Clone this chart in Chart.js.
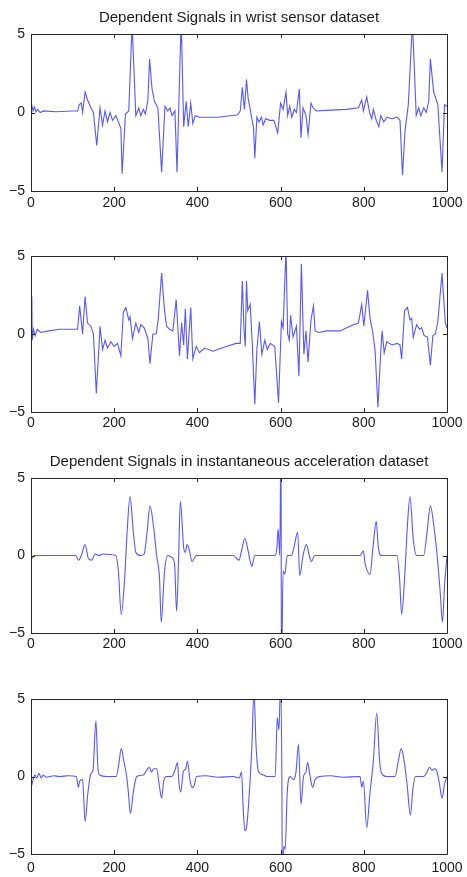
<!DOCTYPE html>
<html>
<head>
<meta charset="utf-8">
<script src="https://cdn.jsdelivr.net/npm/chart.js@4.4.1/dist/chart.umd.min.js"></script>
<style>
    body { margin: 0; background: #fff; }
    #wrap { position: relative; width: 467px; height: 877px; overflow: hidden; }
    canvas { position: absolute; left: 0; }
</style>
</head>
<body>
<div id="wrap">
    <canvas id="chart1" style="top:0px"></canvas>
    <canvas id="chart2" style="top:230px"></canvas>
    <canvas id="chart3" style="top:440px"></canvas>
    <canvas id="chart4" style="top:680px"></canvas>
</div>
<script>
// tick labels and titles
let xTicks = [0, 200, 400, 600, 800, 1000];
let yTicks = [-5, 0, 5];
let titles = [
    "Dependent Signals in wrist sensor dataset",
    "",
    "Dependent Signals in instantaneous acceleration dataset",
    ""
];

// [sample, value]
let wristSignal1 = [
    [0, 0.3], [2, 0.45], [5, 0.1], [8, 0.35], [12, 0.05], [16, 0.2], [22, 0.0], [30, 0.1],
    [60, 0.05], [100, 0.1], [112, 0.1], [116, 0.5], [121, 0.6], [124, 0.0], [130, 1.3],
    [136, 0.8], [144, 0.3], [150, 0.0], [158, -2.1], [166, 0.3], [172, -0.8], [178, 0.1],
    [184, -0.6], [190, 0.0], [196, -0.5], [204, -0.2], [210, -0.6], [216, -1.0], [219, -3.9],
    [227, -0.1], [235, 0.1], [243, 5.6], [252, -0.2], [259, 0.3], [264, -0.2], [270, 0.2],
    [275, -0.1], [281, 0.8], [285, 3.4], [291, 1.5], [297, 0.7], [305, 0.3], [314, -3.8],
    [322, 0.4], [329, 0.1], [334, 0.3], [339, -0.2], [346, 0.1], [351, -3.8], [361, 6],
    [367, -0.9], [373, 0.7], [378, -0.9], [384, 0.6], [389, -0.7], [395, -0.2], [405, -0.3],
    [450, -0.3], [497, -0.15], [503, 0.1], [508, 1.6], [513, 0.2], [518, 2.1], [522, 0.9],
    [527, 0.2], [535, -1.0], [538, -2.9], [543, -0.3], [548, -0.6], [554, -0.3], [558, -0.8],
    [564, -0.4], [574, -0.5], [584, -0.5], [593, -1.3], [600, 0.6], [606, 0.2], [613, 1.3],
    [617, -0.2], [622, 0.4], [627, -0.3], [633, 0.2], [638, 0.0], [645, 1.5], [649, -1.6],
    [654, 0.3], [661, -0.2], [666, -1.4], [673, 0.6], [678, 0.3], [686, 0.1], [720, 0.15],
    [759, 0.2], [787, 0.3], [795, 0.8], [799, 0.1], [807, 1.0], [814, 0.0], [819, -0.4],
    [823, 0.2], [830, -0.5], [836, -0.9], [841, -0.2], [848, -0.6], [856, -0.3], [868, -0.4],
    [880, -0.3], [887, -0.5], [893, -4.0], [899, -1.2], [907, 0.5], [917, 5.8], [926, -0.2],
    [932, 0.3], [937, -0.2], [944, 0.3], [950, 0.0], [956, 0.7], [960, 3.4], [968, 1.3],
    [978, 0.5], [988, -3.8], [994, 0.5], [1000, 0.4]
];

let wristSignal2 = [
    [0, 0.0], [2, 2.4], [3, -0.4], [6, 0.3], [10, -0.1], [15, 0.3], [23, 0.1], [43, 0.2],
    [68, 0.3], [112, 0.3], [117, 1.8], [124, 0.0], [130, 2.4], [136, 0.7], [144, 0.5],
    [150, 0.0], [157, -3.8], [164, -0.5], [166, 0.5], [172, -1.0], [178, -0.4], [184, -0.9],
    [192, -0.5], [200, -0.8], [208, -0.6], [216, -1.4], [222, 1.4], [228, 1.7], [235, 0.9],
    [238, 1.1], [244, -0.3], [252, 0.7], [259, 0.1], [264, 0.6], [272, 0.4], [281, -0.3],
    [286, -1.9], [293, 0.0], [301, 0.0], [306, 1.0], [314, 3.9], [321, 1.5], [326, 0.5],
    [333, 0.3], [341, 0.2], [349, 2.2], [357, -1.4], [362, 0.7], [367, -0.7], [371, 1.6],
    [376, -1.6], [384, 1.7], [389, -1.6], [397, -0.8], [405, -1.2], [417, -0.9], [437, -1.1],
    [469, -0.8], [493, -0.6], [503, -0.6], [508, 3.4], [512, 0.3], [515, -0.8], [518, 3.4],
    [521, 1.5], [527, 1.9], [532, -0.7], [538, -4.5], [543, -1.0], [549, 0.8], [555, -1.3],
    [562, -0.4], [568, -1.0], [575, -0.6], [586, -0.8], [595, -4.4], [602, 0.8], [606, 0.4],
    [613, 5.5], [617, 0.0], [621, -0.4], [624, 1.2], [630, -0.2], [638, 0.5], [644, -2.7],
    [650, 4.5], [656, -1.3], [661, 0.2], [666, -1.8], [673, 0.9], [679, 1.8], [683, 0.2],
    [691, 0.1], [711, 0.2], [743, 0.2], [759, 0.4], [775, 0.6], [787, 0.7], [795, 1.9],
    [800, 0.5], [809, 2.8], [815, 1.0], [821, 0.2], [827, -1.0], [834, -4.7], [841, -1.0],
    [844, 0.2], [849, -1.2], [855, -0.5], [868, -0.7], [880, -0.6], [887, -0.7], [891, -1.6],
    [898, 1.5], [905, 1.7], [911, 0.9], [915, 1.0], [919, -0.2], [927, 0.6], [934, 0.3],
    [939, 0.4], [945, -0.1], [953, -0.2], [960, -2.0], [966, -0.1], [972, 0.0], [978, 0.8],
    [988, 3.9], [996, 0.7], [1000, 0.4]
];

let accelSignal1 = [
    [0, -0.3], [7, 0.0], [108, 0.0], [114, -0.3], [121, 0.0], [130, 0.7], [138, -0.2],
    [146, -0.3], [154, 0.1], [164, 0.0], [172, 0.1], [204, 0.0], [210, -1.0], [217, -3.8],
    [225, -1.5], [231, 1.5], [238, 3.8], [246, 1.5], [252, 0.2], [264, 0.0], [272, 0.1],
    [279, 1.5], [286, 3.2], [294, 2.0], [302, 0.0], [309, -1.5], [313, -4.3], [321, -1.0],
    [329, 0.0], [337, -0.1], [345, -0.5], [350, -3.6], [355, 0.0], [359, 3.5], [367, 0.5],
    [371, 0.2], [375, 0.7], [381, 0.3], [387, -0.4], [397, 0.0], [486, 0.0], [500, -0.3],
    [506, 0.3], [514, 1.1], [522, 0.3], [527, -0.4], [531, -0.7], [538, 0.0], [586, 0.0],
    [591, 0.5], [594, 1.7], [598, 0.0], [601, 8], [602, -8], [606, -1.0], [610, -1.2],
    [616, 0.0], [626, 0.0], [632, 0.5], [641, 1.5], [646, -1.3], [654, 0.0], [662, 0.7],
    [669, 0.0], [674, -0.4], [682, 0.0], [791, 0.0], [799, 0.3], [803, -0.5], [815, -1.2],
    [822, 0.5], [830, 2.2], [835, 0.5], [843, 0.0], [880, 0.0], [886, -1.5], [891, -3.8],
    [898, -1.5], [905, 2.0], [911, 3.8], [919, 1.0], [927, 0.0], [944, 0.0], [952, 1.5],
    [960, 3.2], [968, 2.0], [978, -0.5], [984, -2.5], [989, -4.3], [994, -2.0], [1000, 0.0]
];

let accelSignal2 = [
    [0, -0.5], [1, -0.6], [5, -0.2], [9, 0.1], [14, -0.1], [19, 0.2], [25, -0.1], [29, 0.1],
    [37, -0.05], [45, 0.0], [55, 0.05], [69, 0.0], [90, 0.05], [109, 0.0], [114, -0.7],
    [117, -0.3], [124, -0.2], [130, -2.9], [137, -1.0], [144, 0.2], [149, 0.4], [156, 3.6],
    [161, 0.5], [165, 0.1], [181, 0.0], [205, 0.0], [211, 0.8], [217, 1.8], [223, 1.0],
    [230, 0.0], [234, -1.0], [239, -2.4], [246, -1.0], [254, 0.0], [270, 0.1], [278, 0.4],
    [284, 0.6], [290, 0.3], [295, 0.5], [302, 0.5], [308, -0.5], [314, -1.4], [319, -0.3],
    [326, 0.0], [338, 0.0], [346, 0.4], [352, 0.9], [356, -0.5], [360, -1.0], [366, 0.3],
    [372, 0.5], [376, 1.0], [382, -0.2], [387, -0.7], [392, -0.6], [398, 0.0], [420, 0.05],
    [450, -0.05], [486, 0.0], [501, -0.1], [506, 0.3], [510, -2.0], [514, -3.5], [518, -3.3],
    [525, -1.0], [531, 2.0], [536, 5.5], [541, 2.0], [547, 0.3], [559, 0.1], [567, 0.0],
    [587, 0.0], [592, 3.8], [596, 3.0], [600, 6], [603, 0.0], [604, -6], [608, -4.5],
    [611, -4.7], [616, -1.0], [623, 0.0], [631, -0.2], [637, 0.3], [643, 2.1], [649, -1.8],
    [655, 0.0], [661, 0.3], [665, 0.9], [671, 0.0], [677, -0.7], [683, -0.2], [695, 0.0],
    [720, 0.05], [750, -0.05], [791, 0.0], [795, -0.7], [799, -0.3], [807, -3.3], [815, -1.0],
    [823, 1.0], [831, 4.1], [838, 1.0], [843, 0.2], [855, 0.0], [875, 0.0], [883, 1.0],
    [890, 1.8], [897, 1.0], [904, -0.5], [912, -2.5], [918, -0.8], [924, 0.0], [944, 0.0],
    [952, 0.3], [958, 0.6], [964, 0.4], [970, 0.5], [976, 0.3], [982, -0.5], [988, -1.4],
    [994, -0.5], [1000, 0.0]
];

// canvas height, space above the plot box, x axis height, title padding
let panels = [
    { id: "chart1", data: wristSignal1, height: 219, top: 0, axis: 28, labelPad: 4, title: titles[0], tPad: 9, smooth: false },
    { id: "chart2", data: wristSignal2, height: 210, top: 26, axis: 28, labelPad: 3, title: titles[1], tPad: 0, smooth: false },
    { id: "chart3", data: accelSignal1, height: 221, top: 0, axis: 28, labelPad: 3, title: titles[2], tPad: 13, smooth: true },
    { id: "chart4", data: accelSignal2, height: 197, top: 19, axis: 23, labelPad: 6, title: titles[3], tPad: 0, smooth: true }
];

let fontFamily = "'Liberation Sans', Arial, Helvetica, sans-serif";

// matlab style box with inward ticks on all four sides
let framePlugin = {
    id: "frame",
    afterDatasetsDraw: function (chart) {
        let ctx = chart.ctx;
        let a = chart.chartArea;
        let xs = chart.scales.x, ys = chart.scales.y;
        let len = 4;
        ctx.save();
        ctx.strokeStyle = "#262626";
        ctx.lineWidth = 1;
        ctx.beginPath();
        xTicks.forEach(function (v) {
            let px = Math.round(xs.getPixelForValue(v)) + 0.5;
            ctx.moveTo(px, a.bottom); ctx.lineTo(px, a.bottom - len);
            ctx.moveTo(px, a.top); ctx.lineTo(px, a.top + len);
        });
        yTicks.forEach(function (v) {
            let py = Math.round(ys.getPixelForValue(v)) + 0.5;
            ctx.moveTo(a.left, py); ctx.lineTo(a.left + len, py);
            ctx.moveTo(a.right, py); ctx.lineTo(a.right - len, py);
        });
        ctx.rect(Math.round(a.left) + 0.5, Math.round(a.top) + 0.5,
            Math.round(a.right - a.left), Math.round(a.bottom - a.top));
        ctx.stroke();
        ctx.restore();
    }
};

document.addEventListener("DOMContentLoaded", function () {
    panels.forEach(drawPanel);
});

function drawPanel(p) {
    let canvas = document.getElementById(p.id);
    canvas.width = 467;
    canvas.height = p.height;
    canvas.style.width = "467px";
    canvas.style.height = p.height + "px";

    new Chart(canvas.getContext("2d"), {
        type: "line",
        data: {
            datasets: [{
                data: p.data.map(d => ({ x: d[0], y: d[1] })),
                borderColor: "rgba(45, 45, 255, 0.8)",
                borderWidth: 1.1,
                pointRadius: 0,
                fill: false,
                tension: 0,
                cubicInterpolationMode: p.smooth ? "monotone" : "default"
            }]
        },
        plugins: [framePlugin],
        options: {
            responsive: false,
            animation: false,
            layout: { padding: { top: p.title ? 0 : p.top, right: 20, left: 0, bottom: 0 } },
            plugins: {
                legend: { display: false },
                tooltip: { enabled: false },
                title: {
                    display: !!p.title,
                    text: p.title,
                    fullSize: false,
                    color: "#1a1a1a",
                    font: { family: fontFamily, size: 15, weight: "normal", lineHeight: 1.2 },
                    padding: { top: p.tPad, bottom: 7 }
                }
            },
            scales: {
                x: {
                    type: "linear",
                    min: 0,
                    max: 1000,
                    afterBuildTicks: s => { s.ticks = xTicks.map(v => ({ value: v })); },
                    afterFit: s => { s.height = p.axis; s.paddingLeft = 0; s.paddingRight = 0; },
                    grid: { display: false, drawTicks: false },
                    border: { display: false },
                    ticks: {
                        color: "#1a1a1a",
                        font: { family: fontFamily, size: 14 },
                        padding: p.labelPad,
                        maxRotation: 0,
                        autoSkip: false,
                        callback: v => String(v)
                    }
                },
                y: {
                    min: -5,
                    max: 5,
                    afterBuildTicks: s => { s.ticks = yTicks.map(v => ({ value: v })); },
                    afterFit: s => { s.width = 31; s.paddingTop = 0; s.paddingBottom = 0; },
                    grid: { display: false, drawTicks: false },
                    border: { display: false },
                    ticks: {
                        color: "#1a1a1a",
                        font: { family: fontFamily, size: 14 },
                        padding: 6,
                        autoSkip: false,
                        callback: v => (v < 0 ? "\u2212" + Math.abs(v) : String(v))
                    }
                }
            }
        }
    });
}
</script>
</body>
</html>
